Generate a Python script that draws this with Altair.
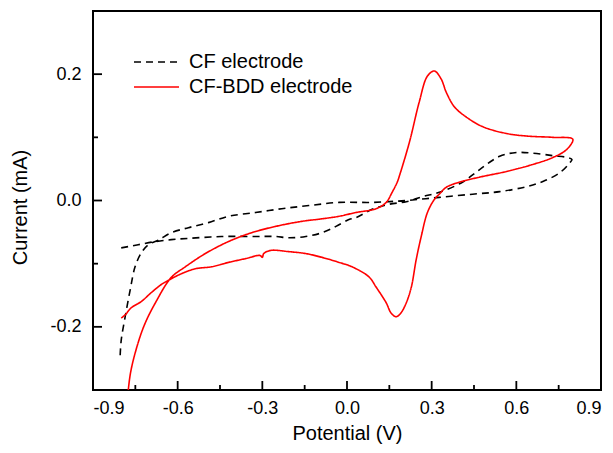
import altair as alt
import pandas as pd

# ---- data ----
series_names = ["CF electrode", "CF-BDD electrode"]

cf_potential = [-0.800, -0.740, -0.679, -0.623, -0.562, -0.445, -0.324, -0.253, -0.206, -0.146,
                -0.089, -0.039, 0.007, 0.032, 0.089, 0.149, 0.210, 0.267, 0.327, 0.409,
                0.470, 0.541, 0.601, 0.658, 0.729, 0.783, 0.797, 0.790, 0.754, 0.694,
                0.637, 0.541, 0.445, 0.327, 0.210, 0.089, -0.028, -0.135, -0.231, -0.324,
                -0.420, -0.491, -0.562, -0.623, -0.669, -0.704, -0.729, -0.751, -0.768, -0.786,
                -0.800, -0.804]
cf_current = [-0.075, -0.070, -0.065, -0.062, -0.060, -0.057, -0.057, -0.057, -0.059, -0.057,
              -0.051, -0.041, -0.030, -0.027, -0.014, -0.006, -0.002, 0.006, 0.013, 0.029,
              0.049, 0.070, 0.076, 0.075, 0.071, 0.068, 0.065, 0.060, 0.044, 0.030,
              0.022, 0.014, 0.010, 0.005, 0.000, -0.003, -0.003, -0.008, -0.013, -0.019,
              -0.025, -0.035, -0.043, -0.051, -0.063, -0.070, -0.083, -0.105, -0.141, -0.184,
              -0.221, -0.248]

bdd_potential = [-0.782, -0.775, -0.765, -0.740, -0.715, -0.679, -0.623, -0.573, -0.502, -0.420,
                 -0.338, -0.253, -0.160, -0.089, -0.028, 0.032, 0.103, 0.139, 0.160, 0.178,
                 0.185, 0.221, 0.256, 0.285, 0.310, 0.334, 0.352, 0.381, 0.423, 0.480,
                 0.566, 0.637, 0.729, 0.800, 0.779, 0.729, 0.658, 0.566, 0.470, 0.398,
                 0.352, 0.327, 0.310, 0.285, 0.263, 0.245, 0.228, 0.210, 0.191, 0.174,
                 0.156, 0.139, 0.103, 0.078, 0.018, -0.028, -0.089, -0.146, -0.206, -0.270,
                 -0.295, -0.300, -0.308, -0.359, -0.420, -0.480, -0.537, -0.587, -0.623, -0.658,
                 -0.694, -0.729, -0.765, -0.786, -0.800]
bdd_current = [-0.340, -0.300, -0.268, -0.225, -0.194, -0.162, -0.122, -0.105, -0.084, -0.065,
               -0.051, -0.041, -0.033, -0.029, -0.025, -0.019, -0.013, -0.003, 0.013, 0.029,
               0.038, 0.092, 0.156, 0.197, 0.205, 0.192, 0.171, 0.148, 0.132, 0.117,
               0.106, 0.102, 0.100, 0.097, 0.081, 0.068, 0.057, 0.046, 0.037, 0.029,
               0.021, 0.010, 0.002, -0.019, -0.057, -0.094, -0.137, -0.162, -0.178, -0.184,
               -0.178, -0.162, -0.137, -0.121, -0.105, -0.098, -0.090, -0.084, -0.081, -0.079,
               -0.084, -0.090, -0.087, -0.092, -0.098, -0.105, -0.108, -0.116, -0.124, -0.133,
               -0.146, -0.160, -0.170, -0.181, -0.186]

x_major_ticks = [-0.9, -0.6, -0.3, 0.0, 0.3, 0.6, 0.9]
x_minor_ticks = [-0.75, -0.45, -0.15, 0.15, 0.45, 0.75]
y_major_ticks = [-0.2, 0.0, 0.2]
y_minor_ticks = [-0.1, 0.1]

# ---- tables ----
df = pd.concat([
    pd.DataFrame({"potential": cf_potential, "current": cf_current,
                  "series": series_names[0], "idx": range(len(cf_potential))}),
    pd.DataFrame({"potential": bdd_potential, "current": bdd_current,
                  "series": series_names[1], "idx": range(len(bdd_potential))}),
], ignore_index=True)

W, H = 508, 379
x_scale = alt.Scale(domain=[-0.9, 0.9], nice=False, zero=False)
y_scale = alt.Scale(domain=[-0.3, 0.3], nice=False, zero=False)
label_expr = "(datum.value < -1e-9 ? '-' : '') + format(abs(datum.value), '.1f')"

x_axis = alt.Axis(title="Potential (V)", values=x_major_ticks, ticks=False,
                  domain=False, grid=False, labelExpr=label_expr,
                  labelFontSize=18, labelPadding=9, titleFontSize=20,
                  titlePadding=6, titleFontWeight="normal")
y_axis = alt.Axis(title="Current (mA)", values=y_major_ticks, ticks=False,
                  domain=False, grid=False, labelExpr=label_expr,
                  labelFontSize=18, labelPadding=12, titleFontSize=20,
                  titlePadding=19, titleFontWeight="normal", titleY=196)

legend = alt.Legend(
    title=None, orient="none", legendX=53.5, legendY=41,
    symbolType="M-2.5,0H2.5", symbolSize=324, symbolStrokeWidth=1.6,
    labelFontSize=20, labelOffset=22.5, rowPadding=5, padding=0, labelLimit=0,
    labelColor="black",
)

lines = alt.Chart(df).mark_line(clip=True, strokeWidth=1.6, interpolate="catmull-rom").encode(
    x=alt.X("potential:Q", scale=x_scale, axis=x_axis),
    y=alt.Y("current:Q", scale=y_scale, axis=y_axis),
    color=alt.Color("series:N", scale=alt.Scale(domain=series_names,
                                                range=["#000000", "#ff0000"]), legend=legend),
    strokeDash=alt.StrokeDash("series:N", scale=alt.Scale(domain=series_names,
                                                          range=[[7, 5], [1, 0]]), legend=legend),
    order="idx:Q",
)

def xticks(vals, length):
    return alt.Chart(pd.DataFrame({"potential": vals})).mark_rule(color="black", strokeWidth=1.8).encode(
        x=alt.X("potential:Q", scale=x_scale, axis=x_axis),
        y=alt.value(H), y2=alt.value(H - length))

def yticks(vals, length):
    return alt.Chart(pd.DataFrame({"current": vals})).mark_rule(color="black", strokeWidth=1.8).encode(
        y=alt.Y("current:Q", scale=y_scale, axis=y_axis),
        x=alt.value(0), x2=alt.value(length))

chart = alt.layer(
    lines,
    xticks(x_major_ticks, 9), xticks(x_minor_ticks, 5),
    yticks(y_major_ticks, 9), yticks(y_minor_ticks, 5),
).properties(
    width=W, height=H,
    autosize=alt.AutoSizeParams(type="none"),
    padding={"left": 85, "top": 3, "right": 4, "bottom": 55},
).configure(
    font="Liberation Sans",
).configure_view(
    stroke="black", strokeWidth=2,
).configure_axis(
    labelColor="black", titleColor="black",
)

chart.save("out.html", embed_options={"renderer": "svg", "actions": False})
